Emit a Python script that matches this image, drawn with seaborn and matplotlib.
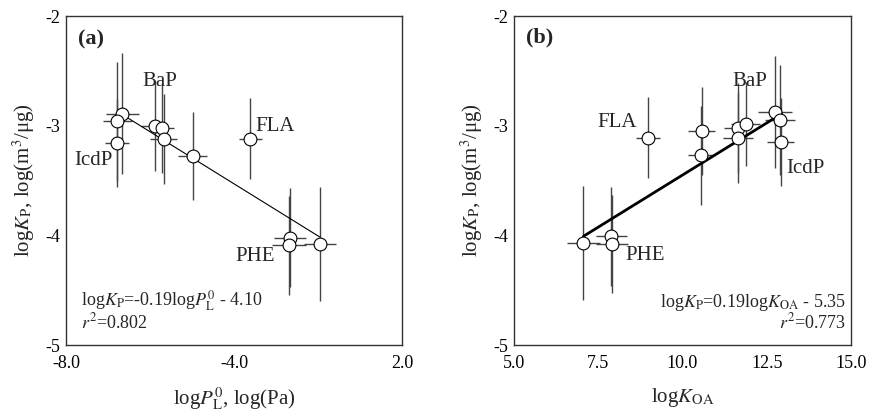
import numpy as np
import pandas as pd
import matplotlib
matplotlib.use("Agg")
import matplotlib.pyplot as plt
import seaborn as sns

# ---- panel (a): log Kp vs log P_L^0 ----
a_x = [-6.32, -6.47, -6.49, -5.36, -5.14, -5.09, -4.23, -2.51, -1.34, -1.37, -0.45]
a_y = [-2.89, -2.96, -3.155, -3.00, -3.02, -3.12, -3.276, -3.12, -4.02, -4.09, -4.08]
a_xerr = [0.50, 0.42, 0.36, 0.40, 0.35, 0.40, 0.43, 0.35, 0.47, 0.50, 0.48]
a_yerr = [0.55, 0.54, 0.40, 0.41, 0.41, 0.41, 0.40, 0.37, 0.45, 0.45, 0.52]
a_slope, a_intercept, a_r2 = -0.19, -4.10, 0.802
a_fit_range = [-6.32, -0.45]
a_xticklabels = ["-8.0", "-4.0", "2.0"]
a_labels = {"BaP": (-5.22, -2.60), "IcdP": (-7.19, -3.32),
            "FLA": (-1.78, -3.01), "PHE": (-2.38, -4.19)}

# ---- panel (b): log Kp vs log K_OA ----
b_x = [8.97, 10.57, 10.55, 11.64, 11.87, 11.64, 12.75, 12.89, 12.92, 7.06, 7.88, 7.91]
b_y = [-3.11, -3.05, -3.27, -3.02, -2.985, -3.11, -2.875, -2.95, -3.146, -4.07, -4.01, -4.08]
b_xerr = [0.35, 0.40, 0.40, 0.40, 0.42, 0.45, 0.50, 0.45, 0.40, 0.50, 0.46, 0.47]
b_yerr = [0.37, 0.40, 0.45, 0.41, 0.38, 0.41, 0.51, 0.50, 0.40, 0.52, 0.45, 0.45]
b_slope, b_intercept, b_r2 = 0.19, -5.35, 0.773
b_fit_range = [7.06, 12.94]
b_xticklabels = ["5.0", "7.5", "10.0", "12.5", "15.0"]
b_labels = {"FLA": (8.05, -2.97), "BaP": (12.0, -2.60),
            "IcdP": (13.64, -3.39), "PHE": (8.89, -4.18)}

yticklabels = ["-5", "-4", "-3", "-2"]

sns.set_style("white")
plt.rcParams["font.family"] = ["Liberation Serif", "DejaVu Serif"]
plt.rcParams["mathtext.fontset"] = "stix"

fig = plt.figure(figsize=(8.74, 4.13), dpi=100)
ax_a = fig.add_axes([0.0755, 0.1646, 0.3845, 0.7966])
ax_b = fig.add_axes([0.5881, 0.1646, 0.3856, 0.7966])

ERR_COLOR = "#444444"


def draw_panel(ax, x, y, xerr, yerr, slope, intercept, fit_range, lw_fit):
    df = pd.DataFrame({"x": x, "y": y})
    ax.errorbar(x, y, xerr=xerr, yerr=yerr, fmt="none", ecolor=ERR_COLOR,
                elinewidth=1.0, capsize=0, zorder=1)
    fit = pd.DataFrame({"x": fit_range})
    fit["y"] = slope * fit["x"] + intercept
    sns.lineplot(data=fit, x="x", y="y", ax=ax, color="black", lw=lw_fit,
                 zorder=2, legend=False)
    sns.scatterplot(data=df, x="x", y="y", ax=ax, s=85, color="white",
                    edgecolor="black", linewidth=0.8, zorder=3, legend=False)


draw_panel(ax_a, a_x, a_y, a_xerr, a_yerr, a_slope, a_intercept, a_fit_range, 0.8)
draw_panel(ax_b, b_x, b_y, b_xerr, b_yerr, b_slope, b_intercept, b_fit_range, 2.0)

for ax, xlim, xtl in [(ax_a, (-8, 2), a_xticklabels), (ax_b, (5, 15), b_xticklabels)]:
    ax.set_xlim(*xlim)
    ax.set_ylim(-5, -2)
    ax.set_xticks(np.linspace(xlim[0], xlim[1], len(xtl)))
    ax.set_xticklabels(xtl)
    ax.set_yticks(np.linspace(-5, -2, len(yticklabels)))
    ax.set_yticklabels(yticklabels)
    ax.tick_params(axis="both", length=0, labelsize=13, colors="black")
    ax.tick_params(axis="x", pad=7)
    ax.tick_params(axis="y", pad=4)
    for sp in ax.spines.values():
        sp.set_color("#333333")
        sp.set_linewidth(1.0)
    ax.set_ylabel(r"log$K_{\mathrm{P}}$, log(m$^3$/μg)", fontsize=15, labelpad=6)

ax_a.set_xlabel(r"log$P_{\mathrm{L}}^{0}$, log(Pa)", fontsize=15, labelpad=10)
ax_b.set_xlabel(r"log$K_{\mathrm{OA}}$", fontsize=15, labelpad=10)

for ax, labels in [(ax_a, a_labels), (ax_b, b_labels)]:
    for name, (lx, ly) in labels.items():
        ax.text(lx, ly, name, fontsize=15, ha="center", va="center")

ax_a.text(0.074, 0.93, "(a)", transform=ax_a.transAxes, fontsize=16,
          fontweight="bold", ha="center", va="center")
ax_b.text(0.077, 0.935, "(b)", transform=ax_b.transAxes, fontsize=16,
          fontweight="bold", ha="center", va="center")

ax_a.text(0.045, 0.135,
          r"log$K_{\mathrm{P}}$=%.2flog$P_{\mathrm{L}}^{0}$ - %.2f" % (a_slope, -a_intercept),
          transform=ax_a.transAxes, fontsize=13, ha="left", va="center")
ax_a.text(0.045, 0.07, r"$r^2$=%.3f" % a_r2, transform=ax_a.transAxes,
          fontsize=13, ha="left", va="center")
ax_b.text(0.985, 0.13,
          r"log$K_{\mathrm{P}}$=%.2flog$K_{\mathrm{OA}}$ - %.2f" % (b_slope, -b_intercept),
          transform=ax_b.transAxes, fontsize=13, ha="right", va="center")
ax_b.text(0.985, 0.07, r"$r^2$=%.3f" % b_r2, transform=ax_b.transAxes,
          fontsize=13, ha="right", va="center")

fig.savefig("out.png", dpi=100)
